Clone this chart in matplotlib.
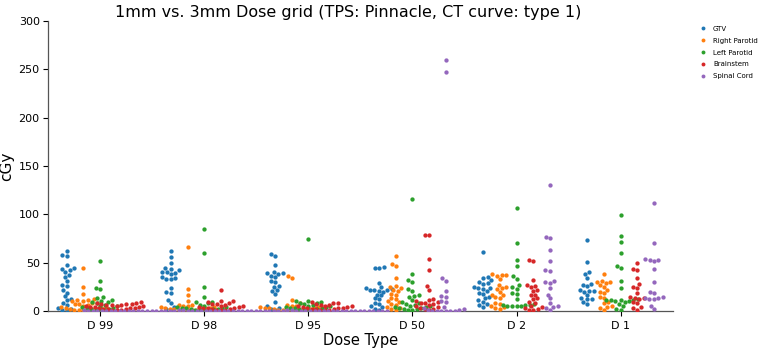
import numpy as np
import matplotlib
matplotlib.use("Agg")
import matplotlib.pyplot as plt
from matplotlib.lines import Line2D

categories = ["D 99", "D 98", "D 95", "D 50", "D 2", "D 1"]
structures = ["GTV", "Right Parotid", "Left Parotid", "Brainstem", "Spinal Cord"]
colors = ["#1f77b4", "#ff7f0e", "#2ca02c", "#d62728", "#9467bd"]

gtv = [
    [62, 58, 57, 48, 44, 43, 42, 40, 37, 35, 31, 27, 26, 22, 19, 15, 12, 11, 8, 6, 3, 2, 1, 0.5],
    [62, 56, 50, 44, 43, 42, 40, 40, 39, 38, 35, 34, 33, 33, 24, 20, 19, 11, 8, 4, 2, 1],
    [59, 57, 48, 40, 39, 39, 38, 36, 35, 31, 30, 26, 25, 22, 21, 18, 9, 5, 3, 2, 1],
    [45, 44, 44, 29, 25, 24, 23, 22, 22, 22, 21, 20, 17, 16, 13, 12, 8, 7, 5, 4, 2, 1],
    [61, 35, 34, 32, 30, 29, 28, 25, 24, 24, 23, 21, 19, 18, 14, 13, 11, 9, 7, 6, 4],
    [73, 51, 40, 38, 34, 28, 27, 26, 22, 21, 21, 20, 17, 13, 12, 12, 9, 7],
]
right_parotid = [
    [44, 25, 18, 12, 11, 11, 10, 10, 8, 7, 7, 6, 5, 4, 4, 3, 3, 2, 2, 2, 1.5, 1, 1, 0.5],
    [66, 23, 16, 10, 6, 6, 5, 5, 4, 4, 3, 3, 3, 2, 2, 2, 1, 1, 1, 0.5, 0.5],
    [36, 34, 11, 8, 6, 5, 5, 4, 4, 3, 3, 3, 2, 2, 2, 1, 1, 1, 0.5, 0.5, 0.5],
    [57, 49, 46, 34, 26, 25, 24, 22, 21, 18, 17, 13, 12, 10, 9, 7, 6, 4, 3, 2, 1],
    [38, 37, 37, 36, 33, 27, 25, 24, 23, 20, 17, 16, 14, 13, 8, 7, 5, 4, 3, 2],
    [38, 31, 30, 30, 29, 27, 25, 22, 20, 19, 14, 13, 9, 8, 5, 4, 3, 1],
]
left_parotid = [
    [52, 31, 24, 23, 14, 13, 11, 10, 9, 9, 8, 6, 5, 5, 4, 3, 3, 2, 2, 1, 1, 0.5],
    [85, 60, 25, 14, 9, 9, 8, 6, 5, 4, 4, 3, 3, 3, 2, 2, 2, 1, 1, 0.5, 0.5],
    [74, 10, 10, 9, 8, 8, 7, 6, 5, 5, 4, 4, 3, 3, 3, 2, 2, 1, 1, 0.5],
    [116, 38, 32, 30, 23, 21, 16, 15, 14, 11, 9, 8, 7, 6, 5, 5, 4, 4, 3, 3, 2, 2, 1, 1],
    [107, 70, 53, 46, 36, 33, 27, 25, 23, 19, 18, 12, 7, 6, 6, 6, 5, 5, 5, 5],
    [99, 78, 71, 60, 46, 44, 31, 24, 12, 11, 11, 11, 11, 10, 10, 9, 7, 5, 2, 1],
]
brainstem = [
    [9, 8, 8, 7, 7, 7, 6, 6, 6, 5, 5, 5, 4, 4, 4, 3, 3, 3, 2, 2, 2, 1, 1, 0.5],
    [22, 10, 10, 9, 8, 7, 7, 6, 5, 5, 4, 4, 3, 3, 3, 2, 2, 1, 1, 0.5],
    [9, 8, 8, 7, 6, 6, 5, 5, 5, 4, 4, 3, 3, 3, 2, 2, 2, 1, 1, 0.5],
    [79, 79, 54, 42, 26, 22, 12, 11, 10, 9, 8, 8, 7, 6, 5, 4, 3, 2, 2, 1],
    [53, 52, 32, 27, 26, 25, 22, 21, 17, 16, 13, 12, 9, 8, 5, 4, 3, 2, 1, 1],
    [50, 43, 42, 34, 28, 25, 24, 19, 14, 13, 13, 12, 9, 8, 4, 3, 1],
]
spinal_cord = [
    [1, 0.5, 0.5, 0.3, 0.3, 0.2, 0.2, 0.1, 0.1, 0.1, 0, 0, 0, 0, 0, 0, 0, 0, 0, 0, 0, 0, 0],
    [0.5, 0.3, 0.2, 0.1, 0.1, 0, 0, 0, 0, 0, 0, 0, 0, 0, 0, 0, 0, 0, 0, 0, 0, 0, 0],
    [0.5, 0.3, 0.2, 0.1, 0.1, 0, 0, 0, 0, 0, 0, 0, 0, 0, 0, 0, 0, 0, 0, 0, 0, 0],
    [260, 247, 34, 31, 21, 15, 14, 10, 9, 4, 3, 2, 1, 0.5, 0, 0, 0, 0, 0, 0],
    [130, 77, 75, 63, 52, 42, 41, 31, 30, 29, 24, 17, 13, 8, 5, 4, 3, 1],
    [112, 70, 54, 53, 53, 52, 43, 30, 20, 19, 14, 13, 13, 12, 12, 5, 2],
]
series = [gtv, right_parotid, left_parotid, brainstem, spinal_cord]

W, H, DPI = 7.75, 3.49, 100
fig = plt.figure(figsize=(W, H), dpi=DPI)
ax = fig.add_axes([0.062, 0.109, 0.806, 0.831])
ax.set_xlim(-0.5, len(categories) - 0.5)
ax.set_ylim(0, 300)

marker_size = 3.1  # points
diam_px = marker_size * DPI / 72.0

p0 = ax.transData.transform((0, 0))
p1 = ax.transData.transform((1, 1))
sx = p1[0] - p0[0]
sy = p1[1] - p0[1]


def beeswarm(y_px, d):
    order = np.argsort(y_px, kind="mergesort")
    placed = []
    xs = np.zeros(len(y_px))
    for idx in order:
        yi = y_px[idx]
        neigh = [(xj, yj) for xj, yj in placed if abs(yi - yj) < d]
        cands = [0.0]
        left_first = True
        for xj, yj in neigh:
            dx = np.sqrt(max(d * d - (yi - yj) ** 2, 0.0)) * 1.05
            l, r = xj - dx, xj + dx
            cands.extend([l, r] if left_first else [r, l])
            left_first = not left_first
        cands = np.array(cands)
        cands = cands[np.argsort(np.abs(cands), kind="mergesort")]
        chosen = cands[-1]
        for c in cands:
            if all((c - xj) ** 2 + (yi - yj) ** 2 >= (d * 0.999) ** 2 for xj, yj in neigh):
                chosen = c
                break
        xs[idx] = chosen
        placed.append((chosen, yi))
    return xs


n_h = len(structures)
width = 0.8
offsets = np.linspace(-width / 2 + width / n_h / 2, width / 2 - width / n_h / 2, n_h)

for h, (name, data, col) in enumerate(zip(structures, series, colors)):
    for c, vals in enumerate(data):
        v = np.asarray(vals, dtype=float)
        off_px = beeswarm(v * sy, diam_px)
        x = c + offsets[h] + off_px / sx
        ax.scatter(x, v, s=marker_size ** 2, color=col, linewidths=0, zorder=3)

ax.set_xticks(range(len(categories)))
ax.set_xticklabels(categories, fontsize=8)
ax.set_yticks(np.arange(0, 301, 50))
ax.tick_params(axis="y", labelsize=8, length=3.5, width=0.8, pad=2.5)
ax.tick_params(axis="x", length=3.5, width=0.8)
ax.spines["top"].set_visible(False)
ax.spines["right"].set_visible(False)
for s in ("left", "bottom"):
    ax.spines[s].set_color("#555555")
    ax.spines[s].set_linewidth(0.9)
ax.set_xlabel("Dose Type", fontsize=10.5, labelpad=2)
ax.set_ylabel("cGy", fontsize=11)
ax.yaxis.set_label_coords(-0.055, 0.5)
ax.set_title("1mm vs. 3mm Dose grid (TPS: Pinnacle, CT curve: type 1)",
             fontsize=11.5, pad=3, x=0.48)

handles = [Line2D([], [], marker="o", linestyle="", markersize=2.8, color=c,
                  markeredgewidth=0) for c in colors]
ax.legend(handles, structures, loc="upper left", bbox_to_anchor=(1.03, 1.005),
          frameon=False, fontsize=5.0, labelspacing=0.85, handletextpad=0.7,
          handlelength=1.5, borderaxespad=0.5)

fig.savefig("out.png", dpi=DPI)
